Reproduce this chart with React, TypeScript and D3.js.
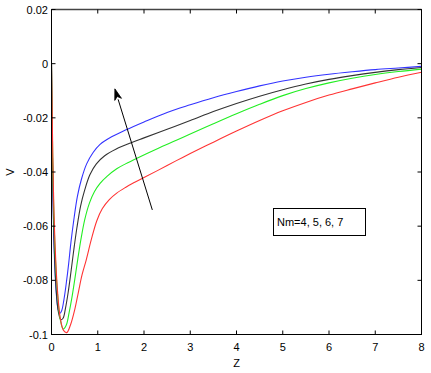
import React from "react";
import * as d3 from "d3";

const xTicks = [0, 1, 2, 3, 4, 5, 6, 7, 8];
const yTicks = [-0.1, -0.08, -0.06, -0.04, -0.02, 0, 0.02];
const yTickLabels = ["-0.1", "-0.08", "-0.06", "-0.04", "-0.02", "0", "0.02"];

const blueZ = [0, 0.01, 0.03, 0.06, 0.1, 0.14, 0.18, 0.22, 0.27, 0.32, 0.37, 0.42, 0.48, 0.56, 0.65, 0.76, 0.9, 1.05, 1.3, 1.6, 2.0, 2.5, 3.0, 3.5, 4.0, 4.5, 5.0, 5.5, 6.0, 6.5, 7.0, 7.5, 8];
const blueV = [0, -0.02, -0.048, -0.07, -0.084, -0.0905, -0.0922, -0.0912, -0.087, -0.081, -0.074, -0.066, -0.058, -0.049, -0.0425, -0.037, -0.0328, -0.0298, -0.027, -0.0245, -0.0215, -0.018, -0.0152, -0.0126, -0.0103, -0.0082, -0.0064, -0.005, -0.0039, -0.003, -0.0022, -0.0016, -0.001];

const blackZ = [0, 0.01, 0.03, 0.06, 0.1, 0.15, 0.2, 0.25, 0.3, 0.36, 0.42, 0.48, 0.55, 0.63, 0.72, 0.83, 0.97, 1.15, 1.4, 1.75, 2.0, 2.5, 3.0, 3.5, 4.0, 4.5, 5.0, 5.5, 6.0, 6.5, 7.0, 7.5, 8];
const blackV = [0, -0.018, -0.045, -0.068, -0.083, -0.0918, -0.0945, -0.094, -0.0905, -0.0845, -0.077, -0.069, -0.0605, -0.0525, -0.0465, -0.041, -0.037, -0.034, -0.0315, -0.029, -0.0274, -0.0242, -0.021, -0.0177, -0.0147, -0.012, -0.0096, -0.0075, -0.0058, -0.0044, -0.0032, -0.0022, -0.0014];

const greenZ = [0, 0.015, 0.04, 0.08, 0.13, 0.19, 0.255, 0.32, 0.38, 0.44, 0.5, 0.57, 0.64, 0.72, 0.82, 0.93, 1.05, 1.2, 1.41, 1.6, 1.86, 2.3, 2.7, 3.0, 3.5, 4.0, 4.5, 5.0, 5.5, 6.0, 6.5, 7.0, 7.5, 8];
const greenV = [0, -0.02, -0.048, -0.07, -0.085, -0.0945, -0.098, -0.0965, -0.092, -0.0865, -0.08, -0.072, -0.0645, -0.0575, -0.0515, -0.0472, -0.0442, -0.0416, -0.0388, -0.037, -0.0348, -0.0313, -0.0283, -0.026, -0.0222, -0.0185, -0.015, -0.0118, -0.0092, -0.0071, -0.0054, -0.004, -0.0029, -0.002];

const redZ = [0, 0.015, 0.04, 0.08, 0.13, 0.19, 0.26, 0.33, 0.41, 0.5, 0.58, 0.66, 0.75, 0.86, 0.98, 1.1, 1.25, 1.41, 1.6, 1.8, 2.0, 2.3, 2.7, 3.0, 3.5, 4.0, 4.5, 5.0, 5.5, 6.0, 6.5, 7.0, 7.5, 8];
const redV = [0, -0.018, -0.045, -0.068, -0.084, -0.094, -0.0985, -0.0993, -0.0965, -0.091, -0.0845, -0.078, -0.0725, -0.065, -0.058, -0.0535, -0.0502, -0.0478, -0.0457, -0.0438, -0.042, -0.0394, -0.0358, -0.0332, -0.029, -0.0249, -0.021, -0.0174, -0.0143, -0.0116, -0.0093, -0.0071, -0.005, -0.0032];

const seriesZ = [blueZ, blackZ, greenZ, redZ];
const seriesV = [blueV, blackV, greenV, redV];
const seriesColors = ["#3333ff", "#333333", "#22ee22", "#ff3333"];

const legendText = "Nm=4, 5, 6, 7";
const arrowTail = [2.18, -0.054];
const arrowTip = [1.37, -0.0093];

export default function App() {
  const W = 431, H = 373;
  const L = 51.5, R = 421.5, T = 9.5, B = 334.5;
  const x = d3.scaleLinear().domain([0, 8]).range([L, R]);
  const y = d3.scaleLinear().domain([-0.1, 0.02]).range([B, T]);
  const line = d3
    .line<[number, number]>()
    .x((d) => x(d[0]))
    .y((d) => y(d[1]))
    .curve(d3.curveCatmullRom.alpha(0.5));
  const font = "Liberation Sans, Arial, sans-serif";

  const ax = x(arrowTail[0]), ay = y(arrowTail[1]);
  const bx = x(arrowTip[0]), by = y(arrowTip[1]);
  const ang = Math.atan2(by - ay, bx - ax);
  const hl = 11, hw = 3.5;
  const baseX = bx - hl * Math.cos(ang), baseY = by - hl * Math.sin(ang);
  const px = -Math.sin(ang) * hw, py = Math.cos(ang) * hw;
  const head = `M${bx},${by}L${baseX + px},${baseY + py}L${bx - 8 * Math.cos(ang)},${by - 8 * Math.sin(ang)}L${baseX - px},${baseY - py}Z`;

  return (
    <svg width={W} height={H} style={{ position: "absolute", left: 0, top: 0, background: "#fff" }}>
      <defs>
        <clipPath id="plot">
          <rect x={L} y={T} width={R - L} height={B - T} />
        </clipPath>
      </defs>
      <g clipPath="url(#plot)" fill="none" strokeWidth={1.1}>
        {seriesZ.map((zs, i) => (
          <path
            key={i}
            d={line(zs.map((z, j) => [z, seriesV[i][j]]) as [number, number][]) || ""}
            stroke={seriesColors[i]}
          />
        ))}
      </g>
      <rect x={L} y={T} width={R - L} height={B - T} fill="none" stroke="#000" strokeWidth={1} />
      <line x1={L} y1={T} x2={R} y2={T} stroke="#444" strokeWidth={1.5} />
      {xTicks.map((t) => (
        <g key={"x" + t}>
          <line x1={x(t)} x2={x(t)} y1={B} y2={B - 4} stroke="#000" />
          <line x1={x(t)} x2={x(t)} y1={T} y2={T + 4} stroke="#000" />
          <text x={x(t)} y={351} textAnchor="middle" fontFamily={font} fontSize={11} fill="#000">
            {t}
          </text>
        </g>
      ))}
      {yTicks.map((t, i) => (
        <g key={"y" + t}>
          <line x1={L} x2={L + 4} y1={y(t)} y2={y(t)} stroke="#000" />
          <line x1={R} x2={R - 4} y1={y(t)} y2={y(t)} stroke="#000" />
          <text x={48} y={y(t) + 4} textAnchor="end" fontFamily={font} fontSize={11} fill="#000">
            {yTickLabels[i]}
          </text>
        </g>
      ))}
      <text x={(L + R) / 2} y={367} textAnchor="middle" fontFamily={font} fontSize={11} fill="#000">
        Z
      </text>
      <text
        transform={`translate(14, ${(T + B) / 2}) rotate(-90)`}
        textAnchor="middle"
        fontFamily={font}
        fontSize={11}
        fill="#000"
      >
        V
      </text>
      <line x1={ax} y1={ay} x2={baseX} y2={baseY} stroke="#000" strokeWidth={1} />
      <path d={head} fill="#000" stroke="#000" strokeWidth={0.8} />
      <rect x={273.5} y={208.5} width={92} height={27} fill="#fff" stroke="#000" strokeWidth={1} />
      <text x={277} y={226} fontFamily={font} fontSize={11} fill="#000">
        {legendText}
      </text>
    </svg>
  );
}
